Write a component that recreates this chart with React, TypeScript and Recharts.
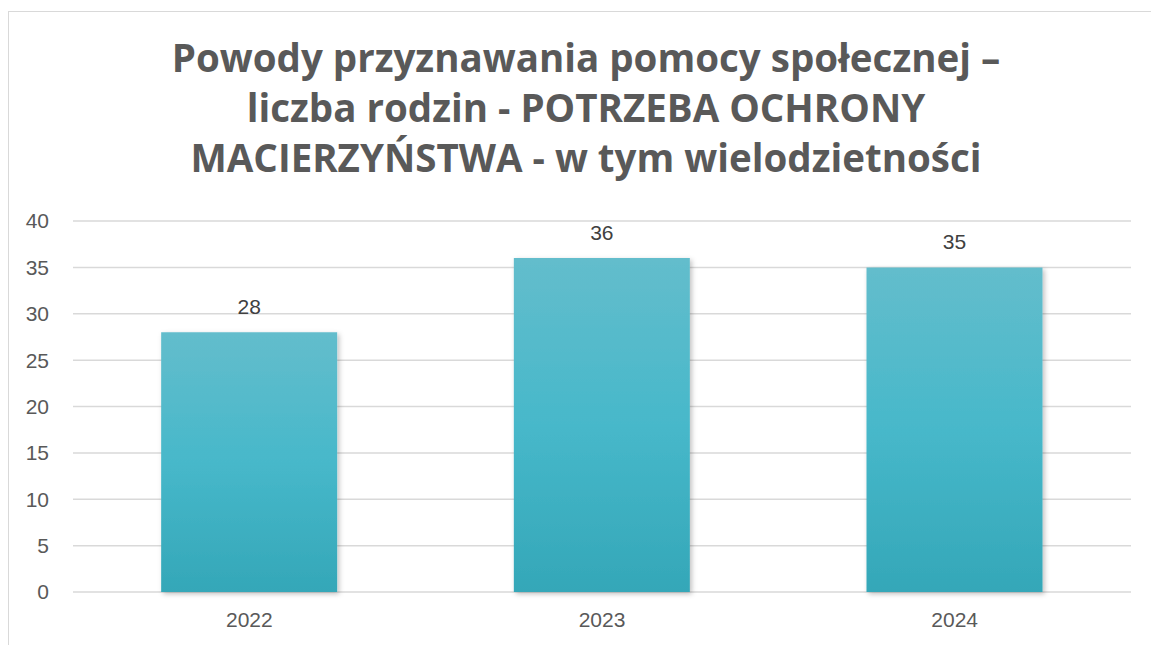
import React from "react";
import { BarChart, Bar, XAxis, YAxis, CartesianGrid, LabelList } from "recharts";

const categories = ["2022", "2023", "2024"];
const values = [28, 36, 35];
const yTicks = [0, 5, 10, 15, 20, 25, 30, 35, 40];
const titleLines = [
  "Powody przyznawania pomocy społecznej –",
  "liczba rodzin - POTRZEBA OCHRONY",
  "MACIERZYŃSTWA - w tym wielodzietności",
];

const data = categories.map((c, i) => ({ year: c, value: values[i] }));
const tickFont = "'Liberation Sans', Arial, sans-serif";

export default function App() {
  return (
    <div style={{ position: "absolute", left: 0, top: 0, width: 1151, height: 645, overflow: "hidden", background: "#fff" }}>
      <div
        style={{
          position: "absolute",
          left: 8,
          top: 11,
          width: 1200,
          height: 700,
          border: "1px solid #d9d9d9",
          boxSizing: "border-box",
        }}
      />
      <div
        style={{
          position: "absolute",
          left: 0,
          top: 32,
          width: 1172,
          textAlign: "center",
          fontFamily: "'Open Sans', sans-serif",
          fontWeight: 700,
          fontSize: 38.5,
          lineHeight: "50px",
          color: "#595959",
          whiteSpace: "nowrap",
        }}
      >
        {titleLines.map((l) => (
          <div key={l}>{l}</div>
        ))}
      </div>
      <div style={{ position: "absolute", left: 0, top: 0 }}>
        <BarChart
          width={1151}
          height={645}
          data={data}
          margin={{ top: 221, right: 20, bottom: 23, left: 13 }}
          barCategoryGap="25%"
        >
          <defs>
            <linearGradient id="barGrad" x1="0" y1="0" x2="0" y2="1">
              <stop offset="0%" stopColor="#63bdcc" />
              <stop offset="50%" stopColor="#47b8ca" />
              <stop offset="100%" stopColor="#34a7b8" />
            </linearGradient>
            <filter id="shadow" x="-10%" y="-10%" width="130%" height="130%">
              <feDropShadow dx="2" dy="2" stdDeviation="2.5" floodColor="#000" floodOpacity="0.25" />
            </filter>
          </defs>
          <CartesianGrid vertical={false} stroke="#d9d9d9" strokeWidth={1.5} />
          <XAxis
            dataKey="year"
            axisLine={false}
            tickLine={false}
            tickSize={0}
            tickMargin={20}
            height={30}
            tick={{ fill: "#595959", fontSize: 21, fontFamily: tickFont }}
          />
          <YAxis
            domain={[0, 40]}
            ticks={yTicks}
            axisLine={false}
            tickLine={false}
            tickSize={0}
            tickMargin={24}
            width={60}
            tick={{ fill: "#595959", fontSize: 21, fontFamily: tickFont }}
          />
          <Bar dataKey="value" fill="url(#barGrad)" isAnimationActive={false} filter="url(#shadow)">
            <LabelList
              dataKey="value"
              position="top"
              offset={18}
              fill="#404040"
              fontSize={21}
              fontFamily={tickFont}
            />
          </Bar>
        </BarChart>
      </div>
    </div>
  );
}
